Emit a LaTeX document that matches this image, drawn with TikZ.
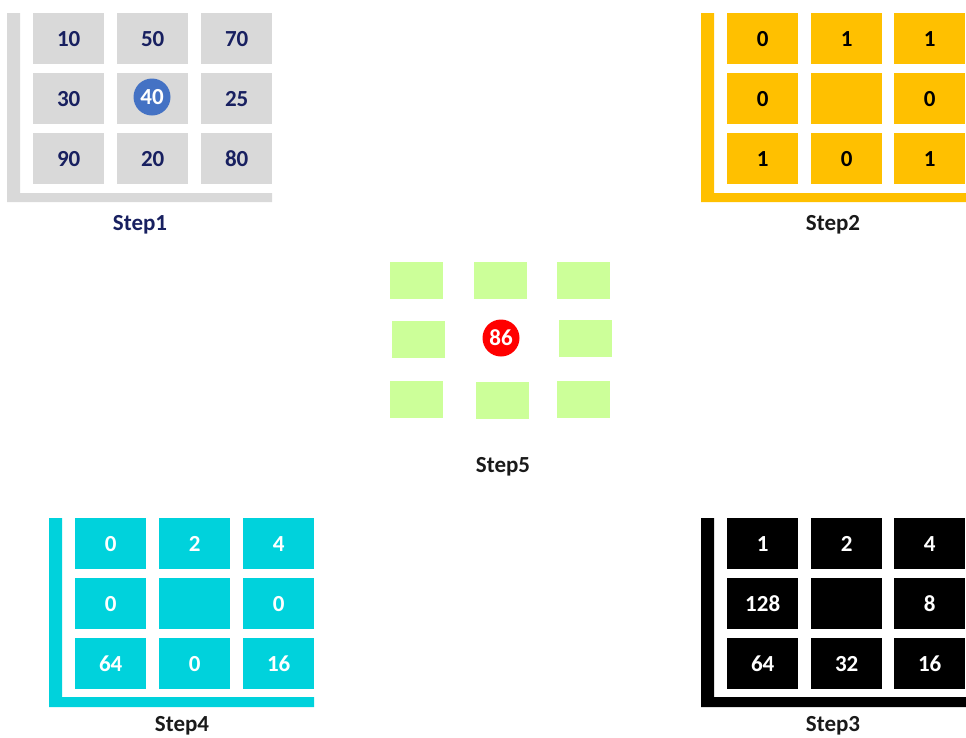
\documentclass[tikz,border=0pt]{standalone}
\usepackage{fontspec}
\setmainfont{Carlito}
\definecolor{navy}{RGB}{24,32,96}
\definecolor{greycell}{RGB}{217,217,217}
\definecolor{ambercell}{RGB}{255,192,0}
\definecolor{cyancell}{RGB}{0,210,220}
\definecolor{greencell}{RGB}{204,255,153}
\definecolor{bluedot}{RGB}{68,114,196}
\definecolor{labelgrey}{RGB}{26,26,26}
\begin{document}
\begin{tikzpicture}[x=1pt,y=-1pt,
  cellbox/.style={anchor=north west,minimum width=71pt,minimum height=51pt,inner sep=0pt,
    font=\fontsize{23}{26}\selectfont\bfseries},
  greybox/.style={cellbox,fill=greycell,text=navy},
  amberbox/.style={cellbox,fill=ambercell,text=black},
  cyanbox/.style={cellbox,fill=cyancell,text=white},
  blackbox/.style={cellbox,fill=black,text=white},
  greenbox/.style={anchor=north west,minimum width=53pt,minimum height=37pt,inner sep=0pt,fill=greencell},
  dotnode/.style={circle,minimum size=37pt,inner sep=0pt,text=white,font=\fontsize{23}{26}\selectfont\bfseries},
  steplabel/.style={anchor=base,font=\fontsize{23}{26}\selectfont\bfseries,text=labelgrey}
]
\useasboundingbox (0,0) rectangle (966,737);
% ---------- Step1 ----------
\fill[greycell] (7,13) -- (20,13) -- (20,193) -- (272,193) -- (272,202) -- (7,202) -- cycle;
\node[greybox] (s1a) at (33,13) {10};
\node[greybox] (s1b) at (117,13) {50};
\node[greybox] (s1c) at (201,13) {70};
\node[greybox] (s1d) at (33,73) {30};
\node[greybox] (s1e) at (117,73) {};
\node[greybox] (s1f) at (201,73) {25};
\node[greybox] (s1g) at (33,133) {90};
\node[greybox] (s1h) at (117,133) {20};
\node[greybox] (s1i) at (201,133) {80};
\node[dotnode,fill=bluedot] (dot1) at (152,97) {40};
\node[steplabel,text=navy] (l1) at (140,230) {Step1};
% ---------- Step2 ----------
\fill[ambercell] (701,13) -- (714,13) -- (714,193) -- (966,193) -- (966,202) -- (701,202) -- cycle;
\node[amberbox] (s2a) at (727,13) {0};
\node[amberbox] (s2b) at (811,13) {1};
\node[amberbox] (s2c) at (894,13) {1};
\node[amberbox] (s2d) at (727,73) {0};
\node[amberbox] (s2e) at (811,73) {};
\node[amberbox] (s2f) at (894,73) {0};
\node[amberbox] (s2g) at (727,133) {1};
\node[amberbox] (s2h) at (811,133) {0};
\node[amberbox] (s2i) at (894,133) {1};
\node[steplabel] (l2) at (833,230) {Step2};
% ---------- Step5 ----------
\node[greenbox] (s5a) at (390,262) {};
\node[greenbox] (s5b) at (474,262) {};
\node[greenbox] (s5c) at (557,262) {};
\node[greenbox] (s5d) at (392,321) {};
\node[greenbox] (s5f) at (559,320) {};
\node[greenbox] (s5g) at (390,381) {};
\node[greenbox] (s5h) at (476,382) {};
\node[greenbox] (s5i) at (557,381) {};
\node[dotnode,fill=red] (dot5) at (501,338) {86};
\node[steplabel] (l5) at (503,472) {Step5};
% ---------- Step4 ----------
\fill[cyancell] (49,518) -- (62,518) -- (62,697) -- (314,697) -- (314,707) -- (49,707) -- cycle;
\node[cyanbox] (s4a) at (75,518) {0};
\node[cyanbox] (s4b) at (159,518) {2};
\node[cyanbox] (s4c) at (243,518) {4};
\node[cyanbox] (s4d) at (75,578) {0};
\node[cyanbox] (s4e) at (159,578) {};
\node[cyanbox] (s4f) at (243,578) {0};
\node[cyanbox] (s4g) at (75,638) {64};
\node[cyanbox] (s4h) at (159,638) {0};
\node[cyanbox] (s4i) at (243,638) {16};
\node[steplabel] (l4) at (182,731) {Step4};
% ---------- Step3 ----------
\fill[black] (701,518) -- (714,518) -- (714,697) -- (966,697) -- (966,707) -- (701,707) -- cycle;
\node[blackbox] (s3a) at (727,518) {1};
\node[blackbox] (s3b) at (811,518) {2};
\node[blackbox] (s3c) at (894,518) {4};
\node[blackbox] (s3d) at (727,578) {128};
\node[blackbox] (s3e) at (811,578) {};
\node[blackbox] (s3f) at (894,578) {8};
\node[blackbox] (s3g) at (727,638) {64};
\node[blackbox] (s3h) at (811,638) {32};
\node[blackbox] (s3i) at (894,638) {16};
\node[steplabel] (l3) at (833,731) {Step3};
\end{tikzpicture}
\end{document}
